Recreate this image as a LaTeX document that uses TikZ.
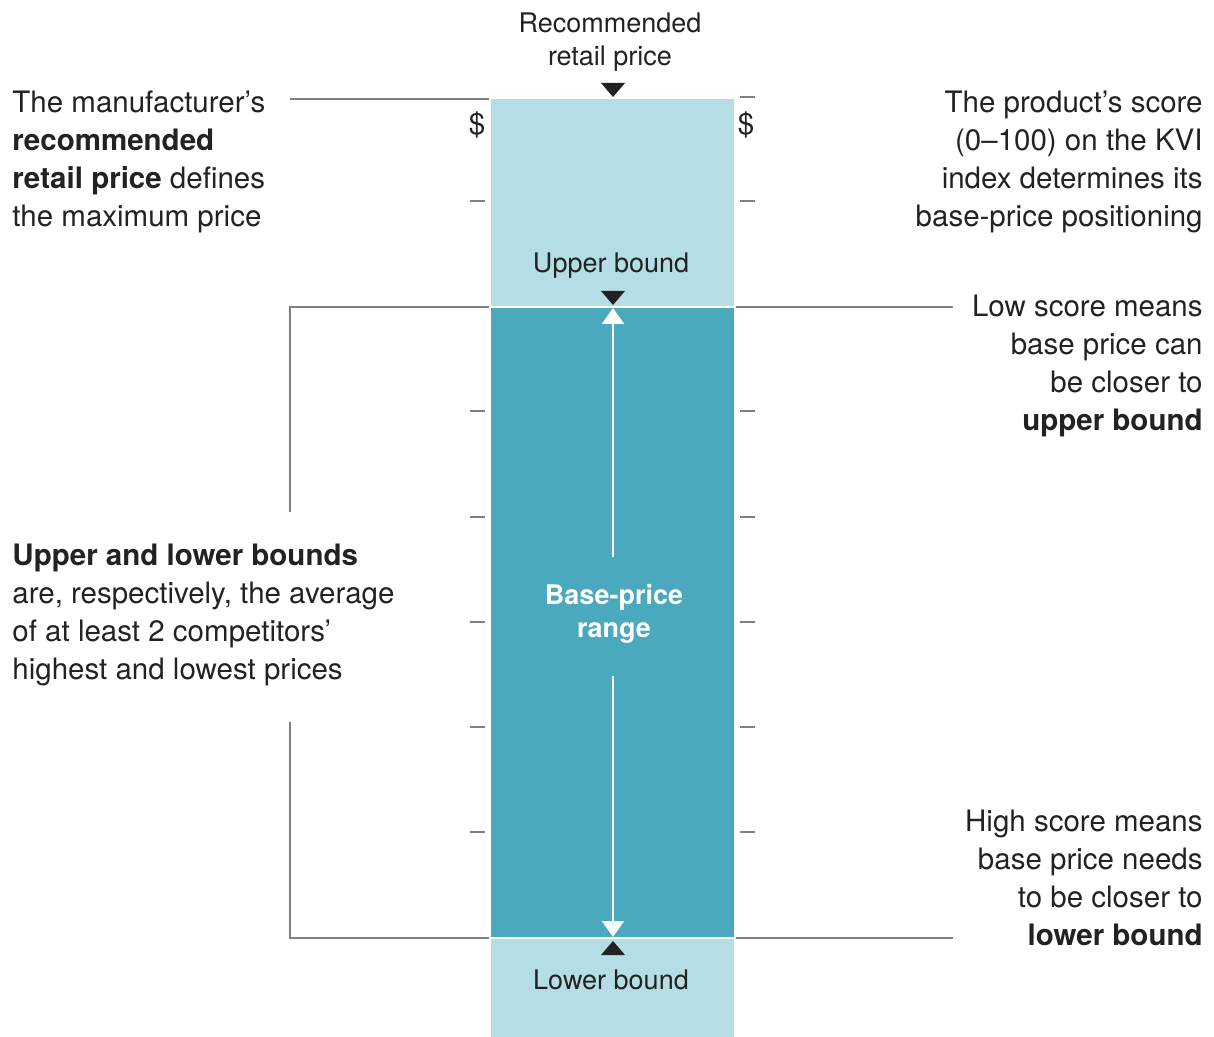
\documentclass[tikz,border=0pt]{standalone}
\usepackage{fontspec}
\setmainfont{TeX Gyre Heros}
\usetikzlibrary{positioning,arrows.meta}
\definecolor{boxlight}{HTML}{B5DDE5}
\definecolor{boxdark}{HTML}{4AA9BC}
\definecolor{ink}{HTML}{222222}
\definecolor{rulegray}{HTML}{808080}
\tikzset{
  note/.style={inner sep=0pt, text=ink, font=\fontsize{14.75}{19}\selectfont},
  lbl/.style={inner sep=0pt, text=ink, align=center, font=\fontsize{13.5}{16.5}\selectfont},
  leader/.style={draw=rulegray, line width=1pt},
  tickmark/.style={draw=rulegray, line width=0.8pt},
  marker/.style={fill=ink},
  rangearrow/.style={draw=white, line width=1pt, -{Triangle[width=11pt,length=8pt]}}
}

\begin{document}
\begin{tikzpicture}[x=0.5pt, y=-0.5pt]
\useasboundingbox (0,0) rectangle (1214,1037);
% price column
\fill[boxlight] (491,99) rectangle (734,1037);
\fill[boxdark] (491,307) rectangle (734,938);
\draw[white, line width=1.2pt] (491,307) -- (734,307);
\draw[white, line width=1.2pt] (491,938) -- (734,938);
\coordinate (colTL) at (489,99);
\coordinate (colUL) at (489,307);
\coordinate (colUR) at (736,307);
\coordinate (colLL) at (489,938);
\coordinate (colLR) at (736,938);
\coordinate (top) at (613,308);
\coordinate (bot) at (613,937);
\coordinate (rtop) at (613,557);
\coordinate (rbot) at (613,676);

% scale ticks
\foreach \y in {201,411,517,622,727,832} {
  \draw[tickmark] (470,\y) -- (485,\y);
  \draw[tickmark] (740,\y) -- (755,\y);
}
\draw[tickmark] (740,97) -- (755,97);
\node[note] (dleft) at (477,125) {\$};
\node[note] (dright) at (746,125) {\$};

% column labels
\node[lbl, anchor=north] (rrp) at (610,12) {Recommended\\retail price};
\node[lbl, anchor=north] (ub) at (611,252) {Upper bound};
\node[lbl, anchor=north] (lb) at (611,969) {Lower bound};
\node[lbl, anchor=north, text=white, font=\bfseries\fontsize{13.5}{16.5}\selectfont] (range) at (614,584) {Base-price\\range};

% markers
\fill[marker] (601,83) -- (625,83) -- (613,97) -- cycle;
\fill[marker] (601,291) -- (625,291) -- (613,305) -- cycle;
\fill[marker] (601,955) -- (625,955) -- (613,941) -- cycle;
\draw[rangearrow] (rtop) -- (top);
\draw[rangearrow] (rbot) -- (bot);

% notes
\node[note, anchor=north west, align=left] (maker) at (12,91)
  {The manufacturer’s\\\textbf{recommended}\\\textbf{retail price} defines\\the maximum price};
\node[note, anchor=north west, align=left] (bounds) at (12,544)
  {\textbf{Upper and lower bounds}\\are, respectively, the average\\of at least 2 competitors’\\highest and lowest prices};
\node[note, anchor=north east, align=right] (score) at (1203,91)
  {The product’s score\\(0–100) on the KVI\\index determines its\\base-price positioning};
\node[note, anchor=north east, align=right] (low) at (1203,295)
  {Low score means\\base price can\\be closer to\\\textbf{upper bound}};
\node[note, anchor=north east, align=right] (high) at (1203,810)
  {High score means\\base price needs\\to be closer to\\\textbf{lower bound}};

% leaders
\coordinate (mk) at (290,99);
\coordinate (bu) at (290,512);
\coordinate (bl) at (290,722);
\draw[leader] (mk) -- (colTL);
\draw[leader] (colUL) -| (bu);
\draw[leader] (bl) |- (colLL);
\draw[leader] (colUR) -- (953,307);
\draw[leader] (colLR) -- (953,938);
\end{tikzpicture}
\end{document}
